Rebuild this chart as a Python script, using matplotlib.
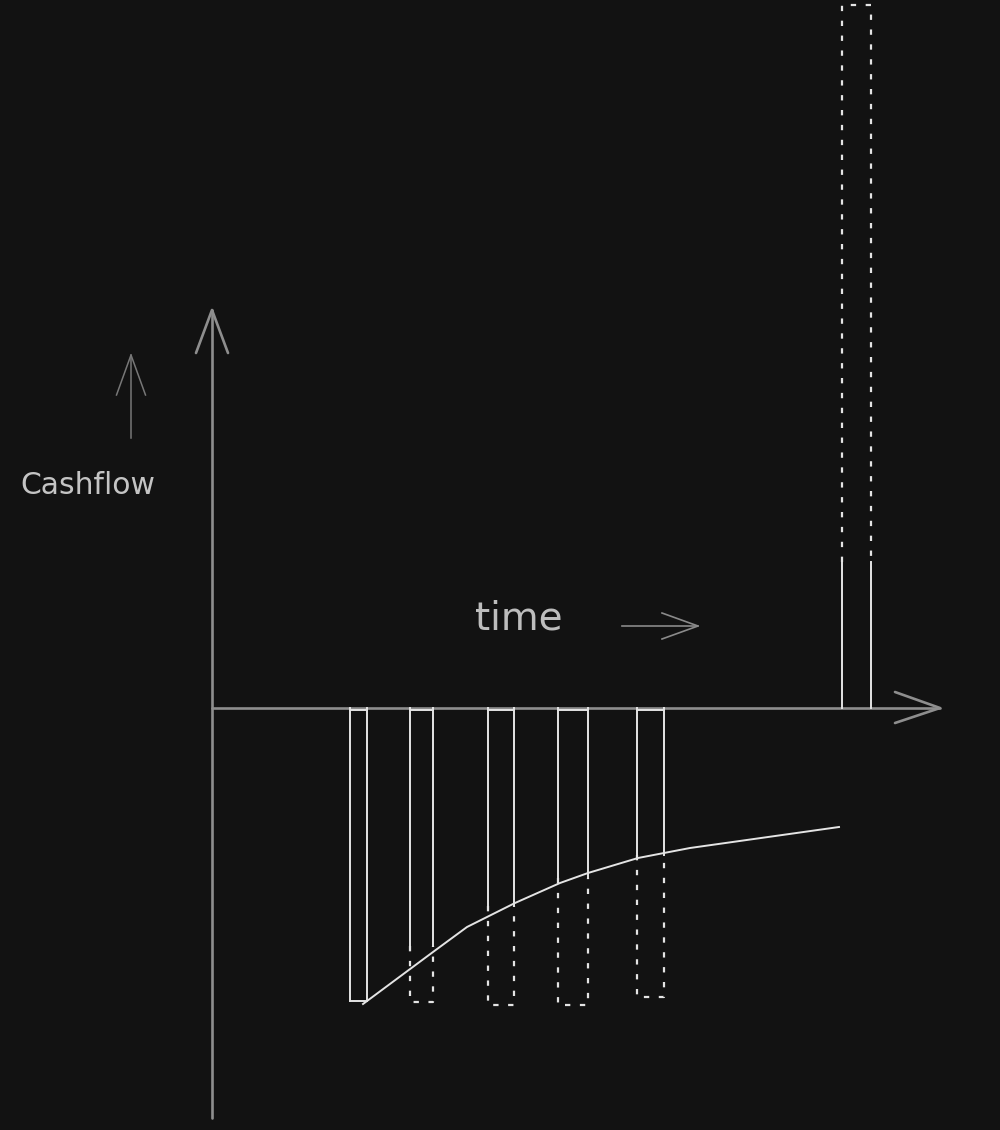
import matplotlib
matplotlib.use("Agg")
import matplotlib.pyplot as plt

# cashflow sketch: outflows (discounted part solid, nominal part dotted), one big inflow at the end
t_start = [1.38, 1.98, 2.76, 3.46, 4.25, 6.30]
t_end = [1.55, 2.21, 3.02, 3.76, 4.52, 6.59]
nominal = [-2.93, -2.94, -2.97, -2.97, -2.89, 7.03]
discounted = [-2.93, -2.38, -1.98, -1.70, -1.47, 1.46]

# present value curve
pv_t = [1.51, 2.21, 2.55, 3.03, 3.48, 3.76, 4.26, 4.78, 6.27]
pv_v = [-2.96, -2.44, -2.19, -1.95, -1.75, -1.65, -1.50, -1.40, -1.19]

BG = "#121212"
AXC = "#8e8e8e"
BAR = "#e4e4e4"
DOT = (0, (2.4, 4.3))

fig = plt.figure(figsize=(10, 11.3), dpi=100, facecolor=BG)
ax = fig.add_axes([0, 0, 1, 1])
ax.set_facecolor(BG)
ax.set_xlim(-2.12, 7.88)
ax.set_ylim(-4.22, 7.08)
ax.axis("off")

# axes with open arrow heads
ax.plot([0, 0], [-4.10, 3.98], color=AXC, lw=1.9, solid_capstyle="round")
ax.plot([-0.16, 0, 0.16], [3.55, 3.98, 3.55], color=AXC, lw=1.9, solid_capstyle="round")
ax.plot([0, 7.28], [0, 0], color=AXC, lw=1.9, solid_capstyle="round")
ax.plot([6.83, 7.28, 6.83], [0.16, 0, -0.15], color=AXC, lw=1.9, solid_capstyle="round")

# bars
for a, b, n, d in zip(t_start, t_end, nominal, discounted):
    if n < 0:
        ax.plot([a, b], [-0.02, -0.02], color=BAR, lw=1.4)
    ax.plot([a, a], [0, d], color=BAR, lw=1.4)
    ax.plot([b, b], [0, d], color=BAR, lw=1.4)
    if n == d:
        ax.plot([a, b], [d, d], color=BAR, lw=1.4)
    else:
        ax.plot([a, a, b, b], [d, n, n, d], color=BAR, lw=1.6, ls=DOT)

ax.plot(pv_t, pv_v, color=BAR, lw=1.4)

# labels and little arrows
ax.plot([-0.81, -0.81], [2.70, 3.53], color="#777777", lw=1.1)
ax.plot([-0.955, -0.81, -0.665], [3.13, 3.53, 3.13], color="#777777", lw=1.1)
ax.text(-1.92, 2.22, "Cashflow", color="#c4c4c4", fontsize=21.5, va="center", ha="left",
        family=["DejaVu Sans"])

ax.plot([4.10, 4.86], [0.82, 0.82], color="#8a8a8a", lw=1.2)
ax.plot([4.50, 4.86, 4.50], [0.95, 0.82, 0.69], color="#8a8a8a", lw=1.2)
ax.text(2.63, 0.90, "time", color="#bdbdbd", fontsize=28, va="center", ha="left",
        family=["DejaVu Sans"])

fig.savefig("out.png", dpi=100, facecolor=BG)
